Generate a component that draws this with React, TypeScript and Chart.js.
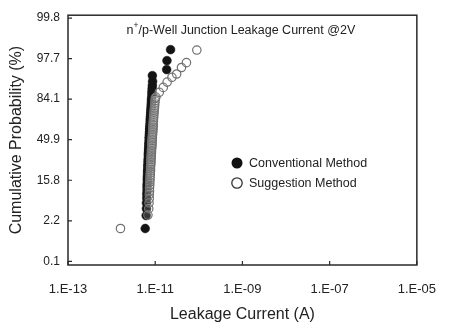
import React, { useEffect, useRef } from 'react';
import { Chart, registerables } from 'chart.js';

Chart.register(...registerables);

// ---- axis ticks ----
const xTickValues = [1e-13, 1e-11, 1e-9, 1e-7, 1e-5];
const xTickLabels = ['1.E-13', '1.E-11', '1.E-09', '1.E-07', '1.E-05'];
// probability axis: labels sit on whole sigma steps
const yTickZ = [-3, -2, -1, 0, 1, 2, 3];
const yTickLabels = ['0.1', '2.2', '15.8', '49.9', '84.1', '97.7', '99.8'];

// ---- Conventional Method (filled) : leakage current in pA, probability as sigma ----
const convCurrentPA = [
  5.9, 6.2, 6.3, 6.3, 6.4, 6.4, 6.5, 6.5, 6.5, 6.6,
  6.6, 6.6, 6.7, 6.7, 6.7, 6.8, 6.8, 6.8, 6.9, 6.9,
  6.9, 7.0, 7.0, 7.0, 7.0, 7.1, 7.1, 7.1, 7.2, 7.2,
  7.2, 7.3, 7.3, 7.3, 7.3, 7.4, 7.4, 7.4, 7.5, 7.5,
  7.5, 7.6, 7.6, 7.7, 7.7, 7.7, 7.8, 7.8, 7.9, 7.9,
  8.0, 8.0, 8.1, 8.1, 8.2, 8.2, 8.3, 8.4, 8.4, 8.5,
  8.6, 8.7, 8.6, 18.3, 18.6, 22.5,
];
const convSigma = [
  -2.19, -1.87, -1.70, -1.56, -1.44, -1.34, -1.26, -1.18, -1.11, -1.04,
  -0.98, -0.92, -0.86, -0.81, -0.76, -0.71, -0.66, -0.62, -0.57, -0.53,
  -0.49, -0.44, -0.40, -0.36, -0.32, -0.28, -0.25, -0.21, -0.17, -0.13,
  -0.09, -0.06, -0.02, 0.02, 0.06, 0.09, 0.13, 0.17, 0.21, 0.25,
  0.28, 0.32, 0.36, 0.40, 0.44, 0.49, 0.53, 0.57, 0.62, 0.66,
  0.71, 0.76, 0.81, 0.86, 0.92, 0.98, 1.04, 1.11, 1.18, 1.26,
  1.34, 1.44, 1.58, 1.73, 1.95, 2.22,
];

// ---- Suggestion Method (open) ----
const suggCurrentPA = [
  1.6, 6.8, 7.1, 7.2, 7.3, 7.3, 7.4, 7.4, 7.5, 7.5,
  7.6, 7.6, 7.7, 7.7, 7.8, 7.8, 7.8, 7.9, 7.9, 8.0,
  8.0, 8.0, 8.1, 8.1, 8.2, 8.2, 8.2, 8.3, 8.3, 8.4,
  8.4, 8.4, 8.5, 8.5, 8.6, 8.6, 8.7, 8.7, 8.8, 8.8,
  8.9, 8.9, 9.0, 9.0, 9.1, 9.1, 9.2, 9.2, 9.3, 9.4,
  9.5, 9.6, 9.7, 9.8, 9.9, 10.0, 10.4, 12.4, 15.3, 18.8,
  24.2, 31.0, 40.0, 52.0, 90.0,
];
const suggSigma = [
  -2.19, -1.86, -1.70, -1.56, -1.45, -1.35, -1.27, -1.19, -1.12, -1.05,
  -0.99, -0.93, -0.87, -0.82, -0.77, -0.72, -0.67, -0.62, -0.58, -0.54,
  -0.49, -0.45, -0.41, -0.37, -0.33, -0.29, -0.25, -0.21, -0.18, -0.14,
  -0.10, -0.06, -0.02, 0.02, 0.05, 0.09, 0.13, 0.17, 0.21, 0.25,
  0.29, 0.33, 0.37, 0.41, 0.45, 0.49, 0.54, 0.58, 0.63, 0.68,
  0.73, 0.78, 0.84, 0.90, 0.96, 1.02, 1.05, 1.17, 1.29, 1.42,
  1.54, 1.62, 1.78, 1.90, 2.21,
];

const seriesNames = ['Conventional Method', 'Suggestion Method'];
const titleMain = 'n';
const titleSup = '+';
const titleRest = '/p-Well Junction Leakage Current @2V';
const xTitle = 'Leakage Current (A)';
const yTitle = 'Cumulative Probability (%)';

const FONT = '"Liberation Sans", Arial, Helvetica, sans-serif';
const INK = '#222222';

const toPoints = (cur: number[], sig: number[]) =>
  cur.map((c, i) => ({ x: c * 1e-12, y: sig[i] }));

const decorPlugin = {
  id: 'decor',
  afterDraw(chart: any) {
    const { ctx, chartArea: a, scales } = chart;
    ctx.save();
    // frame
    ctx.strokeStyle = '#2a2a2a';
    ctx.lineWidth = 1.5;
    ctx.strokeRect(a.left, a.top, a.right - a.left, a.bottom - a.top);
    // inward tick marks
    ctx.lineWidth = 1.2;
    ctx.beginPath();
    xTickValues.forEach((v) => {
      const px = scales.x.getPixelForValue(v);
      ctx.moveTo(px, a.bottom);
      ctx.lineTo(px, a.bottom - 4);
    });
    yTickZ.forEach((v) => {
      const py = scales.y.getPixelForValue(v);
      ctx.moveTo(a.left, py);
      ctx.lineTo(a.left + 4, py);
    });
    ctx.stroke();

    // title with superscript
    ctx.fillStyle = INK;
    ctx.textBaseline = 'middle';
    ctx.textAlign = 'left';
    const mainFont = `12.5px ${FONT}`;
    const supFont = `8.5px ${FONT}`;
    ctx.font = mainFont;
    const w1 = ctx.measureText(titleMain).width;
    const w3 = ctx.measureText(titleRest).width;
    ctx.font = supFont;
    const w2 = ctx.measureText(titleSup).width;
    const total = w1 + w2 + w3;
    const cx = (a.left + a.right) / 2 - 1.5;
    let tx = cx - total / 2;
    const ty = a.top + 15;
    ctx.font = mainFont;
    ctx.fillText(titleMain, tx, ty);
    tx += w1;
    ctx.font = supFont;
    ctx.fillText(titleSup, tx, ty - 5);
    tx += w2;
    ctx.font = mainFont;
    ctx.fillText(titleRest, tx, ty);

    // legend
    const lx = scales.x.getPixelForValue(1e-13) + 169;
    const ly = [163, 183];
    ctx.font = `12.5px ${FONT}`;
    // filled
    ctx.beginPath();
    ctx.arc(lx, ly[0], 5.5, 0, Math.PI * 2);
    ctx.fillStyle = '#111111';
    ctx.fill();
    // open
    ctx.beginPath();
    ctx.arc(lx, ly[1], 5.2, 0, Math.PI * 2);
    ctx.fillStyle = '#ffffff';
    ctx.fill();
    ctx.strokeStyle = '#333333';
    ctx.lineWidth = 1.3;
    ctx.stroke();
    ctx.fillStyle = INK;
    ctx.fillText(seriesNames[0], lx + 12, ly[0] + 0.5);
    ctx.fillText(seriesNames[1], lx + 12, ly[1] + 0.5);
    ctx.restore();
  },
};

export default function App() {
  const ref = useRef<HTMLCanvasElement | null>(null);

  useEffect(() => {
    if (!ref.current) return;
    const chart = new Chart(ref.current, {
      type: 'scatter',
      data: {
        datasets: [
          {
            label: seriesNames[1],
            data: toPoints(suggCurrentPA, suggSigma),
            pointRadius: 4.2,
            pointBorderWidth: 1.2,
            pointBackgroundColor: 'rgba(255,255,255,0.15)',
            pointBorderColor: '#707070',
            showLine: false,
          },
          {
            label: seriesNames[0],
            data: toPoints(convCurrentPA, convSigma),
            pointRadius: 4.4,
            pointBorderWidth: 0.5,
            pointBackgroundColor: '#141414',
            pointBorderColor: '#141414',
            showLine: false,
          },
        ],
      },
      options: {
        animation: false,
        responsive: true,
        maintainAspectRatio: false,
        layout: { padding: { top: 12, right: 26, left: 0, bottom: 0 } },
        plugins: {
          legend: { display: false },
          tooltip: { enabled: false },
          title: { display: false },
        },
        scales: {
          x: {
            type: 'logarithmic',
            min: 1e-13,
            max: 1e-5,
            afterBuildTicks: (scale: any) => {
              scale.ticks = xTickValues.map((v) => ({ value: v }));
            },
            afterFit: (scale: any) => {
              scale.height = 64;
            },
            grid: { display: false, drawTicks: false },
            border: { display: false },
            ticks: {
              autoSkip: false,
              maxRotation: 0,
              padding: 17,
              color: INK,
              font: { family: FONT, size: 13 },
              callback: (_v: any, i: number) => xTickLabels[i],
            },
            title: {
              display: true,
              text: xTitle,
              color: INK,
              font: { family: FONT, size: 16 },
              padding: { top: 0, bottom: 5 },
            },
          },
          y: {
            type: 'linear',
            min: -3.09,
            max: 3.07,
            afterBuildTicks: (scale: any) => {
              scale.ticks = yTickZ.map((v) => ({ value: v }));
            },
            afterFit: (scale: any) => {
              scale.width = 68;
            },
            grid: { display: false, drawTicks: false },
            border: { display: false },
            ticks: {
              autoSkip: false,
              padding: 8,
              color: INK,
              font: { family: FONT, size: 12 },
              callback: (_v: any, i: number) => yTickLabels[i],
            },
            title: {
              display: true,
              text: yTitle,
              color: INK,
              font: { family: FONT, size: 16 },
              padding: { top: 7, bottom: 0 },
            },
          },
        },
      },
      plugins: [decorPlugin],
    } as any);
    return () => chart.destroy();
  }, []);

  return (
    <div style={{ position: 'absolute', left: 0, top: 0, width: 453, height: 329 }}>
      <canvas ref={ref} />
    </div>
  );
}
